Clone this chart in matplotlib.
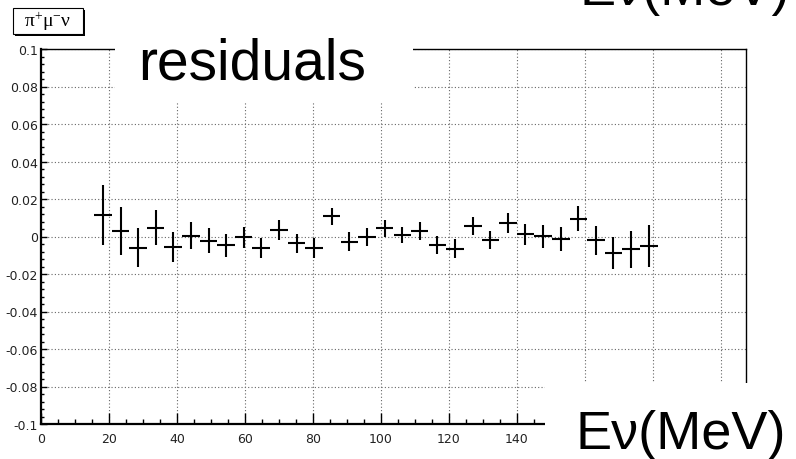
import numpy as np
import matplotlib.pyplot as plt
from matplotlib.patches import Rectangle
from matplotlib.ticker import MultipleLocator, FixedLocator

# residuals per energy bin (MeV), with their errors
energy = [18.2, 23.4, 28.6, 33.7, 38.9, 44.1, 49.3, 54.5, 59.6, 64.8, 70.0,
          75.2, 80.4, 85.5, 90.7, 95.9, 101.1, 106.3, 111.4, 116.6, 121.8,
          127.0, 132.2, 137.3, 142.5, 147.7, 152.9, 158.1, 163.2, 168.4,
          173.6, 178.8]
resid = [0.0114, 0.0028, -0.0060, 0.0048, -0.0055, 0.0004, -0.0023, -0.0046,
         -0.0005, -0.0060, 0.0034, -0.0037, -0.0060, 0.0108, -0.0028, -0.0002,
         0.0043, 0.0007, 0.0028, -0.0046, -0.0064, 0.0057, -0.0020, 0.0073,
         0.0012, 0.0002, -0.0011, 0.0096, -0.0020, -0.0087, -0.0068, -0.0050]
err = [0.0160, 0.0128, 0.0104, 0.0091, 0.0079, 0.0073, 0.0067, 0.0062,
       0.0058, 0.0053, 0.0053, 0.0051, 0.0053, 0.0046, 0.0050, 0.0046,
       0.0044, 0.0044, 0.0047, 0.0047, 0.0052, 0.0049, 0.0048, 0.0053,
       0.0055, 0.0062, 0.0064, 0.0069, 0.0078, 0.0087, 0.0099, 0.0114]
bin_width = 5.18

x_major = [0, 20, 40, 60, 80, 100, 120, 140, 160, 180, 200]
x_labels = ['0', '20', '40', '60', '80', '100', '120', '140', '', '', '']
y_major = [0.1, 0.08, 0.06, 0.04, 0.02, 0, -0.02, -0.04, -0.06, -0.08, -0.1]
y_labels = ['0.1', '0.08', '0.06', '0.04', '0.02', '0', '-0.02', '-0.04',
            '-0.06', '-0.08', '-0.1']

plt.rcParams['mathtext.fontset'] = 'custom'
plt.rcParams['mathtext.rm'] = 'Liberation Serif'
plt.rcParams['mathtext.it'] = 'Liberation Serif:italic'

W, H = 796, 460
fig = plt.figure(figsize=(W / 100, H / 100), dpi=100)
ax = fig.add_axes([41 / W, (H - 425) / H, (746 - 41) / W, (425 - 50) / H])

ax.errorbar(energy, resid, yerr=err, xerr=bin_width / 2, fmt='none',
            ecolor='black', elinewidth=1.5, capsize=0, zorder=3)

ax.set_xlim(0, 207.4)
ax.set_ylim(-0.1, 0.1)

ax.xaxis.set_major_locator(FixedLocator(x_major))
ax.xaxis.set_minor_locator(MultipleLocator(5))
ax.yaxis.set_major_locator(FixedLocator(y_major))
ax.yaxis.set_minor_locator(MultipleLocator(0.004))
ax.set_yticklabels(y_labels)
ax.set_xticklabels(x_labels)

ax.grid(True, which='major', color='#666666', linestyle=(0, (1, 2)),
        linewidth=0.8)
ax.tick_params(which='both', direction='in', colors='black', width=1.0,
               labelcolor='#222222', labelsize=9)
ax.tick_params(axis='x', which='major', length=8, pad=6)
ax.tick_params(axis='x', which='minor', length=3.6)
ax.tick_params(axis='y', which='major', length=4.3, pad=2)
ax.tick_params(axis='y', which='minor', length=2.4)

for side in ['left', 'bottom']:
    ax.spines[side].set_linewidth(1.6)
for side in ['top', 'right']:
    ax.spines[side].set_linewidth(1.0)

# white patches behind the big labels
fig.patches.append(Rectangle((115 / W, (H - 103) / H), (413 - 115) / W,
                             73 / H, transform=fig.transFigure,
                             facecolor='white', edgecolor='none', zorder=5))
fig.patches.append(Rectangle((545 / W, 0), (W - 545) / W, (H - 384) / H,
                             transform=fig.transFigure,
                             facecolor='white', edgecolor='none', zorder=5))

fig.text(138 / W, (H - 80) / H, 'residuals', fontsize=41,
         family='Liberation Sans', va='baseline', ha='left', zorder=6)
fig.text(575 / W, (H - 449) / H, 'Eν(MeV)', fontsize=39,
         family='Liberation Sans', va='baseline', ha='left', zorder=6)
fig.text(580 / W, (H - 5) / H, 'Eν(MeV)', fontsize=39,
         family='Liberation Sans', va='baseline', ha='left', zorder=6)

# histogram title box with shadow
fig.patches.append(Rectangle((15 / W, (H - 37) / H), 70 / W, 26 / H,
                             transform=fig.transFigure, facecolor='black',
                             edgecolor='none', zorder=6))
fig.patches.append(Rectangle((13 / W, (H - 35) / H), 70 / W, 26 / H,
                             transform=fig.transFigure, facecolor='white',
                             edgecolor='black', linewidth=0.8, zorder=7))
fig.text(48 / W, (H - 22) / H, r'$\mathrm{π^{+}μ^{-}ν}$', fontsize=14,
         ha='center', va='center', zorder=8)

fig.savefig('out.png', dpi=100)
